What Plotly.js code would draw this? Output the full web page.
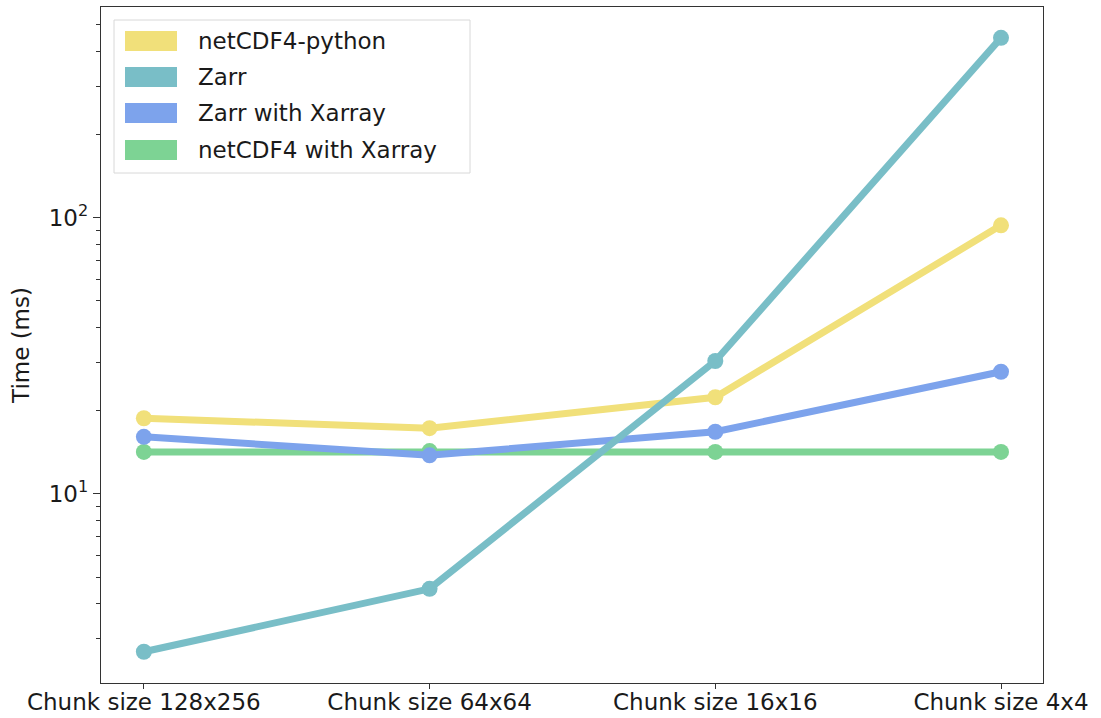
<!DOCTYPE html>
<html>
<head>
<meta charset="utf-8">
<script src="https://cdn.plot.ly/plotly-3.0.1.min.js"></script>
<style>html,body{margin:0;padding:0;background:#fff;}#chart{width:1101px;height:718px;}</style>
</head>
<body>
<div id="chart"></div>
<script>
// Data
const categories = ["Chunk size 128x256", "Chunk size 64x64", "Chunk size 16x16", "Chunk size 4x4"];
const seriesNames = ["netCDF4-python", "Zarr", "Zarr with Xarray", "netCDF4 with Xarray"];
const netcdf4Python = [18.8, 17.3, 22.4, 94];
const zarr = [2.68, 4.53, 30.3, 449];
const zarrXarray = [16.1, 13.8, 16.8, 27.7];
const netcdf4Xarray = [14.2, 14.3, 14.2, 14.2];
const colors = ["#F1E07A", "#79BEC7", "#7DA3EC", "#7DD394"];
const yTickVals = [10, 100];
const yTickText = ["10<sup>1</sup>", "10<sup>2</sup>"];
const yMinorVals = [3,4,5,6,7,8,9,20,30,40,50,60,70,80,90,200,300,400,500];

const allSeries = [netcdf4Python, zarr, zarrXarray, netcdf4Xarray];
const xIdx = categories.map((c, i) => i);
const order = [3, 2, 0, 1];
const traces = order.map(k => ({
  type: "scatter", mode: "lines+markers",
  x: xIdx, y: allSeries[k], name: seriesNames[k],
  line: {color: colors[k], width: 7},
  marker: {color: colors[k], size: 16},
  showlegend: false
}));

const font = "DejaVu Sans, sans-serif";
const shapes = [];
const annotations = [];
// legend box
shapes.push({type: "rect", xref: "paper", yref: "paper",
  x0: (114-101)/942, x1: (470-101)/942, y0: 1-(173-7)/676, y1: 1-(20-7)/676,
  line: {color: "#d8d8d8", width: 1}, fillcolor: "rgba(255,255,255,0.85)", layer: "above"});
const rowY = [41, 77, 113, 150];
seriesNames.forEach((n, k) => {
  shapes.push({type: "rect", xref: "paper", yref: "paper",
    x0: (125-101)/942, x1: (177-101)/942,
    y0: 1-(rowY[k]+10-7)/676, y1: 1-(rowY[k]-10-7)/676,
    line: {width: 0}, fillcolor: colors[k], layer: "above"});
  annotations.push({xref: "paper", yref: "paper", x: (196-101)/942, y: 1-(rowY[k]-7)/676,
    xanchor: "left", yanchor: "middle", showarrow: false, text: n,
    font: {family: font, size: 23, color: "#1a1a1a"}});
});

const layout = {
  width: 1101, height: 718,
  margin: {l: 101, r: 58, t: 7, b: 35},
  paper_bgcolor: "#fff", plot_bgcolor: "#fff",
  showlegend: false,
  font: {family: font, size: 23, color: "#1a1a1a"},
  xaxis: {
    range: [-0.15, 3.147], tickmode: "array", tickvals: xIdx, ticktext: categories,
    showgrid: false, zeroline: false, showline: true, mirror: true,
    linecolor: "#333", linewidth: 1.2, ticks: "outside", ticklen: 5, tickcolor: "#333",
    ticklabelstandoff: -7,
    tickfont: {family: font, size: 23, color: "#1a1a1a"}
  },
  yaxis: {
    type: "log", range: [0.315, 2.764], tickmode: "array", tickvals: yTickVals, ticktext: yTickText,
    showgrid: false, zeroline: false, showline: true, mirror: true,
    linecolor: "#333", linewidth: 1.2, ticks: "outside", ticklen: 7, tickcolor: "#333",
    tickfont: {family: font, size: 23, color: "#1a1a1a"},
    minor: {tickmode: "array", tickvals: yMinorVals, ticks: "outside", ticklen: 4, tickcolor: "#333", showgrid: false},
    title: {text: "Time (ms)", font: {family: font, size: 23, color: "#1a1a1a"}, standoff: 12}
  },
  shapes: shapes,
  annotations: annotations
};

Plotly.newPlot("chart", traces, layout, {displayModeBar: false, staticPlot: true});
</script>
</body>
</html>
